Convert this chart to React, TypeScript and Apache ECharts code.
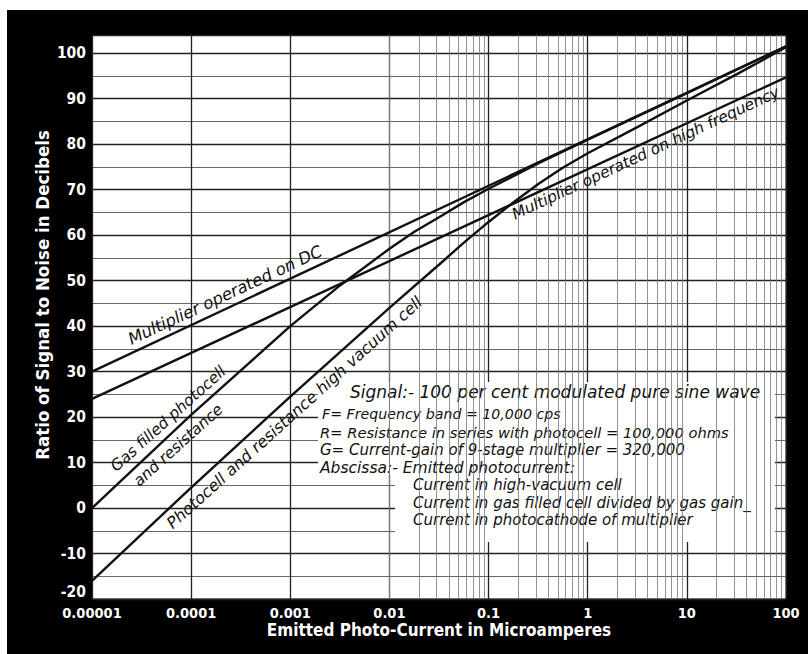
import { useEffect, useRef } from 'react';
import * as echarts from 'echarts';

// x axis (log, microamperes)
const xTickLabels = ['0.00001', '0.0001', '0.001', '0.01', '0.1', '1', '10', '100'];

// Multiplier operated on DC
const dcX = [0.00001, 100];
const dcY = [30, 101.5];

// Multiplier operated on high frequency
const hfX = [0.00001, 100];
const hfY = [24, 94.7];

// Gas filled photocell and resistance
const gasX = [0.00001, 0.0001, 0.001, 0.0032, 0.01, 0.018, 0.032, 0.056, 0.1, 0.32, 1, 10, 100];
const gasY = [0, 20.5, 40, 49, 57, 60.8, 64, 67.2, 70.2, 75.8, 81, 91.2, 101.5];

// Photocell and resistance, high vacuum cell
const vacX = [0.00001, 0.0001, 0.001, 0.01, 0.032, 0.056, 0.1, 0.18, 0.32, 0.56, 1, 3.2, 10, 32, 100];
const vacY = [-16, 4.5, 24.5, 44, 53.6, 58.3, 62.9, 67.3, 71.3, 74.8, 78, 83.8, 89.6, 95.4, 101.3];

const noteLines = [
  'Signal:- 100 per cent modulated pure sine wave',
  'F= Frequency band = 10,000 cps',
  'R= Resistance in series with photocell = 100,000 ohms',
  'G= Current-gain of 9-stage multiplier = 320,000',
  'Abscissa:- Emitted photocurrent:',
  'Current in high-vacuum cell',
  'Current in gas filled cell divided by gas gain_',
  'Current in photocathode of multiplier',
];

const zip = (xs: number[], ys: number[]) => xs.map((x, i) => [x, ys[i]]);

const NARROW = '"DejaVu Sans Condensed", "Liberation Sans Narrow", sans-serif';
const HAND = '"DejaVu Sans", "Noto Sans", sans-serif';

export default function App() {
  const ref = useRef<HTMLDivElement>(null);
  useEffect(() => {
    document.body.style.margin = '0';
    const chart = echarts.init(ref.current!, null, { renderer: 'svg' });

    const minorX: number[] = [];
    for (let d = -5; d <= 1; d++) {
      for (let m = 2; m <= 9; m++) minorX.push(Number((m * Math.pow(10, d)).toPrecision(3)));
    }

    const lineLabel = (coord: number[], text: string, rotate: number, size: number) => ({
      coord,
      value: 0,
      label: { formatter: text, rotate, fontSize: size },
    });

    const markPointBase = {
      symbol: 'circle',
      symbolSize: 1,
      silent: true,
      itemStyle: { color: 'rgba(0,0,0,0)' },
      label: {
        show: true,
        position: 'inside',
        color: '#111',
        fontStyle: 'italic',
        fontFamily: HAND,
      },
    };

    const curve = (name: string, data: number[][], labels: any[]) => ({
      name,
      type: 'line',
      data,
      smooth: false,
      showSymbol: false,
      symbol: 'none',
      z: 5,
      lineStyle: { color: '#111', width: 2.4 },
      markPoint: { ...markPointBase, data: labels },
    });

    const noteY = [392, 414, 432, 450, 467.5, 485, 502.5, 520];
    const noteX = [350, 322, 320, 320, 320, 413, 413, 413];
    const noteSize = [17, 14.2, 14.7, 15, 15.5, 15, 15, 15];

    const option: any = {
      animation: false,
      backgroundColor: '#000',
      grid: {
        left: 92,
        right: 22,
        top: 35,
        bottom: 55,
        show: true,
        backgroundColor: '#fff',
        borderColor: '#000',
        borderWidth: 1,
      },
      xAxis: {
        type: 'log',
        logBase: 10,
        min: 0.00001,
        max: 100,
        splitNumber: 7,
        name: 'Emitted Photo-Current in Microamperes',
        nameLocation: 'middle',
        nameGap: 22,
        nameMoveOverlap: false,
        nameTextStyle: {
          color: '#fff',
          fontFamily: NARROW,
          fontWeight: 'bold',
          fontSize: 17,
          verticalAlign: 'top',
        },
        axisLine: { show: false },
        axisTick: { show: false },
        axisLabel: {
          color: '#fff',
          fontFamily: NARROW,
          fontWeight: 'bold',
          fontSize: 14.5,
          margin: 6,
          formatter: (v: number) => xTickLabels[Math.round(Math.log10(v)) + 5] ?? '',
        },
        splitLine: { show: true, lineStyle: { color: '#222', width: 1.3 } },
      },
      yAxis: {
        type: 'value',
        min: -20,
        max: 104,
        interval: 10,
        axisLine: { show: false },
        axisTick: { show: false },
        axisLabel: {
          color: '#fff',
          fontFamily: NARROW,
          fontWeight: 'bold',
          fontSize: 15.5,
          margin: 6,
          formatter: (v: number) => {
            if (v % 10 !== 0) return '';
            return v === -20 ? '{low|-20}' : String(v);
          },
          rich: {
            low: {
              color: '#fff',
              fontFamily: NARROW,
              fontWeight: 'bold',
              fontSize: 15.5,
              padding: [0, 0, 14, 0],
            },
          },
        },
        splitLine: { show: true, lineStyle: { color: '#222', width: 1.3 } },
        minorTick: { show: false, splitNumber: 2 },
        minorSplitLine: { show: true, lineStyle: { color: '#666', width: 1 } },
      },
      graphic: [
        { type: 'rect', shape: { x: 0, y: 0, width: 808, height: 10 }, style: { fill: '#fff' }, z: 0 },
        { type: 'rect', shape: { x: 0, y: 0, width: 7, height: 654 }, style: { fill: '#fff' }, z: 0 },
        {
          type: 'text',
          x: 42,
          y: 295,
          rotation: Math.PI / 2,
          z: 4,
          silent: true,
          style: {
            text: 'Ratio of Signal to Noise in Decibels',
            fill: '#fff',
            fontFamily: NARROW,
            fontWeight: 'bold',
            fontSize: 18.5,
            align: 'center',
            verticalAlign: 'middle',
            textAlign: 'center',
            textVerticalAlign: 'middle',
          },
        },
        {
          type: 'polygon',
          z: 3,
          silent: true,
          shape: {
            points: [
              [318, 382], [775, 382], [775, 542], [395, 542], [395, 475], [318, 475],
            ],
          },
          style: { fill: '#fff' },
        },
        ...noteLines.map((t, i) => ({
          type: 'text',
          z: 4,
          silent: true,
          style: {
            text: t,
            x: noteX[i],
            y: noteY[i],
            fill: '#111',
            fontStyle: 'italic',
            fontSize: noteSize[i],
            fontFamily: HAND,
            verticalAlign: 'middle',
            textVerticalAlign: 'middle',
          },
        })),
      ],
      series: [
        {
          name: 'grid',
          type: 'line',
          data: [[0.00001, -20]],
          showSymbol: false,
          lineStyle: { opacity: 0 },
          z: 1,
          silent: true,
          markLine: {
            silent: true,
            symbol: ['none', 'none'],
            label: { show: false },
            lineStyle: { color: '#777', width: 0.8, type: 'solid' },
            data: minorX.map((v) => ({ xAxis: v })),
          },
        },
        curve('Multiplier operated on DC', zip(dcX, dcY), [
          lineLabel([0.00022, 46.8], 'Multiplier operated on DC', 25, 16.5),
        ]),
        curve('Multiplier operated on high frequency', zip(hfX, hfY), [
          lineLabel([3.85, 78.0], 'Multiplier operated on high frequency', 25, 15.5),
        ]),
        curve('Gas filled photocell and resistance', zip(gasX, gasY), [
          lineLabel([0.0000586, 19.6], 'Gas filled photocell', 42, 15.5),
          lineLabel([0.000074, 13.8], 'and resistance', 42, 15.5),
        ]),
        curve('Photocell and resistance high vacuum cell', zip(vacX, vacY), [
          lineLabel([0.0011, 21.0], 'Photocell and resistance high vacuum cell', 42, 16),
        ]),
      ],
    };

    chart.setOption(option);
    return () => chart.dispose();
  }, []);
  return <div ref={ref} style={{ width: 808, height: 654 }} />;
}
